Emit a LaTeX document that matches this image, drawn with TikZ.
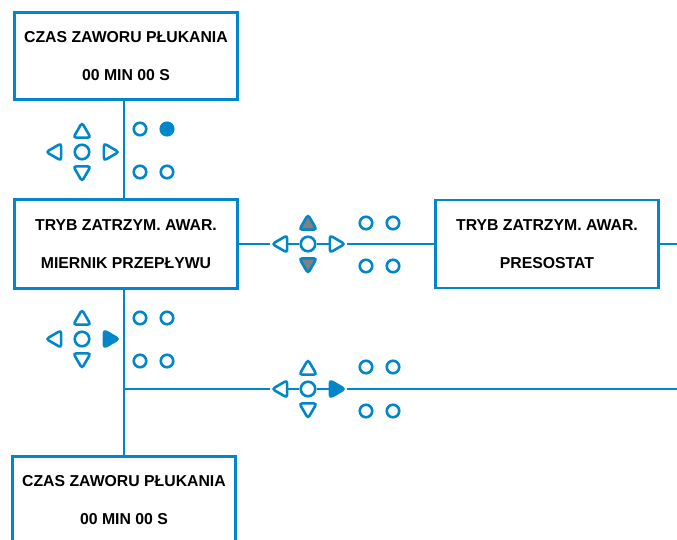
\documentclass[tikz,border=0pt]{standalone}
\usepackage{fontspec}
\setmainfont{Liberation Sans}
\usepackage{tikz}
\usetikzlibrary{positioning}
\usetikzlibrary{shapes.geometric, arrows}
\usetikzlibrary{calc, shapes, backgrounds}
\definecolor{pblue}{RGB}{0,134,201}
\definecolor{pgray}{RGB}{128,128,128}
\tikzstyle{link} = [draw=pblue, line width=2.4pt]

\begin{document}
\begin{tikzpicture}[
    x = 1pt, y = -1pt,
    screen/.style = {draw = pblue, line width = 2.7pt, fill = white, minimum width = 223.5pt, minimum height = 87pt,
                     align = center, font = \bfseries\fontsize{15.8}{19}\selectfont},
    key/.style = {draw = pblue, circle, line width = 2.6pt, fill = white, minimum size = 14.5pt, inner sep = 0pt},
    dot/.style = {key, minimum size = 12.5pt},
    tri/.style = {regular polygon, regular polygon sides = 3, draw = pblue, line width = 2.6pt, fill = white,
                  minimum size = 20pt, inner sep = 0pt, rounded corners = 3pt},
    tri left/.style = {tri, shape border rotate = 90},
    tri right/.style = {tri, shape border rotate = -90},
    tri down/.style = {tri, shape border rotate = 180}
  ]
  \useasboundingbox (0,0) rectangle (677,540);
  \clip (0,0) rectangle (677,540);

  % Screens
  \node[screen] (b1) at (126,56) {CZAS ZAWORU PŁUKANIA\\[19pt]00 MIN 00 S};
  \node[screen, minimum height = 89pt] (b2) at (126,244) {TRYB ZATRZYM. AWAR.\\[19pt]MIERNIK PRZEPŁYWU};
  \node[screen, minimum height = 88pt] (b3) at (547,244) {TRYB ZATRZYM. AWAR.\\[19pt]PRESOSTAT};
  \node[screen] (b4) at (124,500) {CZAS ZAWORU PŁUKANIA\\[19pt]00 MIN 00 S};
  \coordinate (fork) at (124,389);
  \coordinate (edge1) at (677,244);
  \coordinate (edge2) at (677,389);

  % Keypad 1
  \node[key] (k1) at (82,152) {};
  \node[tri, above = 4.5pt of k1] (k1u) {};
  \node[tri down, below = 4.5pt of k1] (k1d) {};
  \node[tri left, left = 11pt of k1] (k1l) {};
  \node[tri right, right = 12pt of k1] (k1r) {};
  \node[dot, xshift = 58pt, yshift = 23pt] (k1a) at (k1) {};
  \node[dot, fill = pblue, xshift = 85pt, yshift = 23pt] (k1b) at (k1) {};
  \node[dot, xshift = 58pt, yshift = -20pt] (k1c) at (k1) {};
  \node[dot, xshift = 85pt, yshift = -20pt] (k1d) at (k1) {};

  % Keypad 2
  \node[key] (k2) at (308,244) {};
  \node[tri, fill = pgray, above = 4.5pt of k2] (k2u) {};
  \node[tri down, fill = pgray, below = 4.5pt of k2] (k2d) {};
  \node[tri left, left = 11pt of k2] (k2l) {};
  \node[tri right, right = 12pt of k2] (k2r) {};
  \node[dot, xshift = 58pt, yshift = 21pt] (k2a) at (k2) {};
  \node[dot, xshift = 85pt, yshift = 21pt] (k2b) at (k2) {};
  \node[dot, xshift = 58pt, yshift = -22pt] (k2c) at (k2) {};
  \node[dot, xshift = 85pt, yshift = -22pt] (k2d) at (k2) {};

  % Keypad 3
  \node[key] (k3) at (82,339) {};
  \node[tri, above = 4.5pt of k3] (k3u) {};
  \node[tri down, below = 4.5pt of k3] (k3d) {};
  \node[tri left, left = 11pt of k3] (k3l) {};
  \node[tri right, fill = pblue, right = 12pt of k3] (k3r) {};
  \node[dot, xshift = 58pt, yshift = 21pt] (k3a) at (k3) {};
  \node[dot, xshift = 85pt, yshift = 21pt] (k3b) at (k3) {};
  \node[dot, xshift = 58pt, yshift = -22pt] (k3c) at (k3) {};
  \node[dot, xshift = 85pt, yshift = -22pt] (k3d) at (k3) {};

  % Keypad 4
  \node[key] (k4) at (308,389) {};
  \node[tri, above = 4.5pt of k4] (k4u) {};
  \node[tri down, below = 4.5pt of k4] (k4d) {};
  \node[tri left, left = 11pt of k4] (k4l) {};
  \node[tri right, fill = pblue, right = 12pt of k4] (k4r) {};
  \node[dot, xshift = 58pt, yshift = 22pt] (k4a) at (k4) {};
  \node[dot, xshift = 85pt, yshift = 22pt] (k4b) at (k4) {};
  \node[dot, xshift = 58pt, yshift = -22pt] (k4c) at (k4) {};
  \node[dot, xshift = 85pt, yshift = -22pt] (k4d) at (k4) {};

  % Links
  \draw[link] (b1.south -| fork) -- (b2.north -| fork);
  \draw[link] (b2.south -| fork) -- (b4);
  \draw[link] (b2) -- (k2l) -- (k2) -- (k2r) -- (b3);
  \draw[link] (b3) -- (edge1);
  \draw[link] (fork) -- (k4l) -- (k4) -- (k4r) -- (edge2);
\end{tikzpicture}
\end{document}
